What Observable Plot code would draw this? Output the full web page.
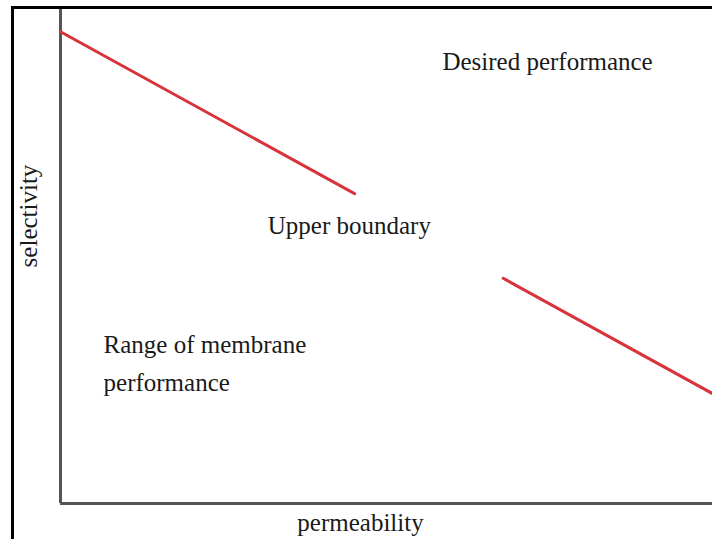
<!DOCTYPE html>
<html>
<head>
<meta charset="utf-8">
<script src="https://cdn.jsdelivr.net/npm/d3@7"></script>
<script src="https://cdn.jsdelivr.net/npm/@observablehq/plot@0.6"></script>
<style>
  html, body { margin: 0; padding: 0; background: #fff; }
  #wrap { position: relative; width: 712px; height: 539px; overflow: hidden; }
  #frame { position: absolute; left: 11px; top: 6px; width: 720px; height: 560px;
           border-left: 3px solid #000; border-top: 3px solid #000; pointer-events: none; }
</style>
</head>
<body>
<div id="wrap"><div id="frame"></div></div>
<script>
// Upper-boundary segments (permeability %, selectivity %) in a 0–100 frame
const segmentIds = ["a", "a", "b", "b"];
const segmentX = [0, 45.1, 67.9, 100];
const segmentY = [95.3, 62.6, 45.5, 22.2];

// Annotations
const noteTexts = ["Desired performance", "Upper boundary", "Range of membrane", "performance"];
const noteX = [74.7, 44.3, 6.6, 6.6];
const noteY = [89.1, 56.0, 32.1, 24.4];
const noteAnchor = ["middle", "middle", "start", "start"];

const xLabel = "permeability";
const yLabel = "selectivity";

const segments = segmentIds.map((id, i) => ({id, x: segmentX[i], y: segmentY[i]}));
const notes = noteTexts.map((t, i) => ({t, x: noteX[i], y: noteY[i], a: noteAnchor[i]}));

const font = "'Liberation Serif', 'Times New Roman', serif";

const chart = Plot.plot({
  width: 712,
  height: 539,
  marginLeft: 60,
  marginTop: 8,
  marginRight: 0,
  marginBottom: 36,
  x: {domain: [0, 100], axis: null},
  y: {domain: [0, 100], axis: null},
  style: {fontFamily: font, background: "transparent"},
  marks: [
    Plot.ruleX([0], {stroke: "#555", strokeWidth: 3}),
    Plot.ruleY([0], {stroke: "#555", strokeWidth: 3}),
    Plot.line(segments, {x: "x", y: "y", z: "id", stroke: "#d8333b", strokeWidth: 3}),
    Plot.text(notes.filter(d => d.a === "middle"), {x: "x", y: "y", text: "t", textAnchor: "middle",
      fontSize: 25, fill: "#1a1a1a"}),
    Plot.text(notes.filter(d => d.a === "start"), {x: "x", y: "y", text: "t", textAnchor: "start",
      fontSize: 25, fill: "#1a1a1a"}),
    Plot.text([xLabel], {frameAnchor: "bottom", textAnchor: "middle", lineAnchor: "middle",
      dx: -26, dy: 19, text: d => d, fontSize: 25, fill: "#1a1a1a"}),
    Plot.text([yLabel], {frameAnchor: "left", textAnchor: "middle", lineAnchor: "middle",
      dx: -32, dy: -40, rotate: -90, text: d => d, fontSize: 25, fill: "#1a1a1a"})
  ]
});
chart.style.position = "absolute";
chart.style.left = "0";
chart.style.top = "0";
document.getElementById("wrap").prepend(chart);
</script>
</body>
</html>
